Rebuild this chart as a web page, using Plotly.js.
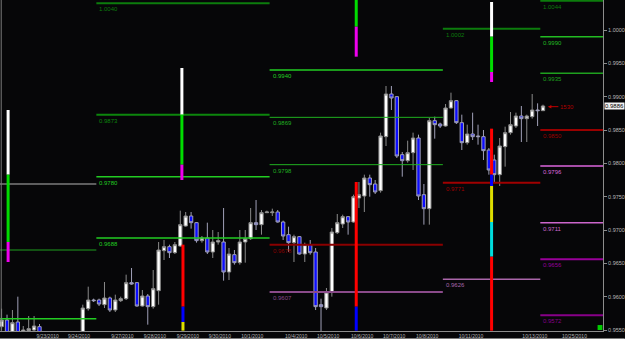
<!DOCTYPE html>
<html><head><meta charset="utf-8">
<script src="https://cdn.plot.ly/plotly-3.0.1.min.js"></script>
<style>html,body{margin:0;padding:0;background:#060608;}#c{width:625px;height:339px;}</style>
</head><body><div id="c"></div>
<script>
// ---- candle data (H4 bars, bar index 0..100) ----
const opens = [.9555,.9565,.9541,.9562,.9538,.9549,.9550,.9555,.9538,.9529,
.9517,.9526,.9520,.9528,.9534,.9528,.9582,.9595,.9595,.9588,
.9598,.9580,.9594,.9597,.9621,.9621,.9586,.9601,.9585,.9609,
.9669,.9675,.9666,.9676,.9706,.9721,.9711,.9684,.9688,.9667,
.9682,.9682,.9637,.9663,.9651,.9682,.9687,.9711,.9708,.9726,
.9726,.9727,.9712,.9693,.9681,.9690,.9664,.9678,.9667,.9588,
.9583,.9607,.9696,.9709,.9720,.9712,.9748,.9751,.9778,.9769,
.9759,.9840,.9904,.9900,.9813,.9804,.9816,.9838,.9753,.9732,
.9864,.9859,.9856,.9883,.9894,.9861,.9831,.9844,.9841,.9840,
.9820,.9805,.9783,.9825,.9846,.9856,.9871,.9867,.9870,.9880,
.9879];
const highs = [.9582,.9573,.9580,.9600,.9556,.9571,.9571,.9559,.9544,.9538,
.9535,.9534,.9537,.9543,.9544,.9588,.9615,.9597,.9597,.9622,
.9600,.9603,.9600,.9633,.9643,.9622,.9610,.9604,.9640,.9682,
.9685,.9678,.9682,.9729,.9727,.9727,.9712,.9691,.9711,.9700,
.9697,.9733,.9673,.9670,.9700,.9700,.9733,.9745,.9730,.9729,
.9732,.9730,.9714,.9705,.9693,.9691,.9681,.9685,.9673,.9597,
.9613,.9703,.9724,.9723,.9721,.9753,.9772,.9783,.9783,.9775,
.9846,.9916,.9916,.9901,.9817,.9834,.9846,.9843,.9769,.9868,
.9870,.9861,.9889,.9906,.9895,.9873,.9858,.9876,.9858,.9850,
.9823,.9813,.9838,.9855,.9877,.9876,.9886,.9873,.9904,.9890,
.9888];
const lows = [.9549,.9538,.9538,.9535,.9535,.9546,.9547,.9535,.9523,.9516,
.9513,.9511,.9516,.9520,.9522,.9525,.9579,.9592,.9586,.9583,
.9577,.9577,.9592,.9595,.9618,.9585,.9585,.9558,.9582,.9588,
.9655,.9658,.9664,.9675,.9705,.9702,.9681,.9681,.9664,.9658,
.9678,.9624,.9625,.9648,.9648,.9651,.9685,.9700,.9693,.9726,
.9721,.9711,.9685,.9667,.9652,.9663,.9652,.9663,.9580,.9546,
.9580,.9600,.9694,.9703,.9693,.9711,.9733,.9727,.9750,.9754,
.9756,.9826,.9880,.9808,.9780,.9801,.9790,.9745,.9708,.9708,
.9837,.9853,.9855,.9882,.9859,.9820,.9828,.9835,.9828,.9805,
.9783,.9771,.9766,.9795,.9843,.9853,.9832,.9832,.9867,.9856,
.9879];
const closes = [.9565,.9543,.9561,.9540,.9550,.9552,.9556,.9540,.9528,.9520,
.9526,.9517,.9529,.9535,.9526,.9583,.9595,.9594,.9589,.9598,
.9580,.9595,.9597,.9621,.9619,.9586,.9601,.9585,.9612,.9670,
.9675,.9666,.9678,.9708,.9721,.9711,.9684,.9688,.9667,.9682,
.9684,.9637,.9664,.9651,.9682,.9687,.9711,.9708,.9726,.9727,
.9727,.9712,.9691,.9681,.9690,.9664,.9678,.9666,.9585,.9585,
.9607,.9697,.9711,.9720,.9712,.9750,.9753,.9778,.9768,.9757,
.9841,.9904,.9898,.9811,.9804,.9816,.9838,.9751,.9732,.9864,
.9858,.9856,.9883,.9894,.9861,.9831,.9844,.9840,.9840,.9819,
.9790,.9783,.9826,.9846,.9858,.9871,.9867,.9871,.9880,.9879,
.9886];
const barIndex = opens.map((_, i) => i);

// ---- date ticks on the bar-index axis ----
const dateLabels = ['9/23/2010','9/24/2010','9/27/2010','9/28/2010','9/29/2010','9/30/2010','10/1/2010',
  '10/4/2010','10/5/2010','10/6/2010','10/7/2010','10/8/2010','10/11/2010','10/13/2010','10/25/2010'];
const dateTickAt = [8.5,14.3,22.3,28.3,34.4,40.3,46.3,54.4,60.3,66.6,72.5,78.6,86.7,98.5,105.8];

// ---- price ticks ----
const priceTicks = [0.9550,0.9600,0.9650,0.9700,0.9750,0.9800,0.9850,0.9900,0.9950,1.0000];
const currentPrice = 0.9886;
const timerText = '1530';

// ---- pivot-style level lines: period boundaries (bar index) and levels ----
const periodBounds = [-1, 17.5, 49.5, 81.5, 99.5, 112];
const levelPeriod = [0,0,0, 1,1,1,1, 2,2,2,2,2, 3,3,3, 4,4,4,4,4,4,4,4];
const levelPrice  = [0.9769,0.9670,0.9567, 1.0040,0.9873,0.9780,0.9688,
  0.9940,0.9869,0.9798,0.9678,0.9607, 1.0002,0.9771,0.9626,
  1.0044,0.9990,0.9935,0.9850,0.9796,0.9711,0.9656,0.9572];

// ---- range indicator columns (bar index, from price, to price) ----
const colX    = [1.2,1.2,1.2, 33.3,33.3,33.3, 33.5,33.5,33.5, 65.5,65.5, 65.5,65.5, 90.5,90.5,90.5, 90.5,90.5,90.5,90.5,90.5];
const colFrom = [0.9880,0.9783,0.9682, 0.9943,0.9873,0.9798, 0.9678,0.9585,0.9562, 1.0045,1.0005, 0.9772,0.9585, 1.0042,0.9990,0.9937, 0.9852,0.9783,0.9766,0.9712,0.9660];
const colTo   = [0.9783,0.9682,0.9652, 0.9873,0.9798,0.9775, 0.9585,0.9562,0.9549, 1.0005,0.9960, 0.9585,0.9549, 0.9990,0.9937,0.9922, 0.9783,0.9766,0.9712,0.9660,0.9549];

// ---- styles (kept apart from data) ----
const levelColor = ['#b4b4b4','#1e9e1e','#22cc22', '#0c7c0c','#0c860c','#22cc22','#22cc22',
  '#22cc22','#20b020','#20b020','#8a0000','#8a4a8a', '#0c7c0c','#a00000','#aa66aa',
  '#0c7c0c','#22bb22','#1ea01e','#990000','#dd66dd','#cc66cc','#990099','#880088'];
const levelWidth = [1,1,1.5, 2,2,1.5,1.5, 1.5,1,1,2,2, 2,2,1.5, 2,1.5,1.5,2,1.5,1.5,2,2];
const colColor = ['#ffffff','#00dd00','#ee00ee', '#ffffff','#00dd00','#ee00ee', '#ff0000','#0000ff','#dddd00',
  '#00dd00','#ee00ee', '#ff0000','#0000ff', '#ffffff','#00dd00','#ee00ee', '#ff0000','#0000ff','#dddd00','#00dddd','#ff0000'];

const traces = [];
levelPrice.forEach((p, k) => {
  const s = levelPeriod[k];
  traces.push({type:'scatter', mode:'lines', x:[periodBounds[s], periodBounds[s+1]], y:[p,p],
    line:{color:levelColor[k], width:levelWidth[k]}, hoverinfo:'skip', showlegend:false});
});
colX.forEach((x, k) => {
  traces.push({type:'scatter', mode:'lines', x:[x,x], y:[colFrom[k], colTo[k]],
    line:{color:colColor[k], width:3}, hoverinfo:'skip', showlegend:false});
});
traces.push({type:'candlestick', x:barIndex, open:opens, high:highs, low:lows, close:closes,
  increasing:{fillcolor:'#ffffff', line:{color:'#8a8a8a', width:1}},
  decreasing:{fillcolor:'#0c0cff', line:{color:'#a0a0b8', width:1}},
  whiskerwidth:0, showlegend:false, hoverinfo:'skip'});

const annotations = [];
levelPrice.forEach((p, k) => {
  const s = levelPeriod[k];
  if (s === 0) return;
  annotations.push({x:periodBounds[s], y:p, xref:'x', yref:'y', text:p.toFixed(4), showarrow:false,
    xanchor:'left', yanchor:'top', xshift:1, yshift:-1,
    font:{family:'Liberation Sans', size:6, color:levelColor[k]}});
});
annotations.push({x:1, xref:'paper', y:currentPrice, yref:'y', text:currentPrice.toFixed(4), showarrow:false,
  xanchor:'left', xshift:1, bgcolor:'#f2f2f2', borderpad:0,
  font:{family:'Liberation Sans', size:6, color:'#000000'}});
annotations.push({x:barIndex[barIndex.length-1]+0.9, y:closes[closes.length-1]-0.0001, xref:'x', yref:'y',
  text:timerText, showarrow:true, ax:19, ay:0, arrowhead:2, arrowsize:0.7, arrowwidth:1, arrowcolor:'#c00000',
  font:{family:'Liberation Sans', size:6, color:'#b00000'}});

const layout = {
  width:625, height:339, margin:{l:0, r:22, t:0, b:8},
  paper_bgcolor:'#060608', plot_bgcolor:'#060608',
  boxgap:0.12,
  xaxis:{range:[-0.296, 111.08], showgrid:false, zeroline:false, showline:true, linecolor:'#8c8c8c', linewidth:1,
    tickmode:'array', tickvals:dateTickAt, ticktext:dateLabels, ticks:'', ticklen:0,
    tickfont:{family:'Liberation Sans', size:5, color:'#b8b8b8'}, rangeslider:{visible:false}, fixedrange:true},
  yaxis:{range:[0.95485, 1.0045], side:'right', showgrid:false, zeroline:false, showline:true, linecolor:'#8c8c8c', linewidth:1,
    tickmode:'array', tickvals:priceTicks, ticktext:priceTicks.map(v=>v.toFixed(4)), ticks:'outside', ticklen:3, tickcolor:'#8c8c8c',
    tickfont:{family:'Liberation Sans', size:5.5, color:'#b8b8b8'}, fixedrange:true},
  shapes:[
    {type:'line', xref:'paper', yref:'paper', x0:0.002, x1:0.002, y0:0, y1:1, line:{color:'#7a7a7a', width:1}},
    {type:'line', xref:'paper', yref:'paper', x0:0, x1:1.036, y0:-0.0227, y1:-0.0227, line:{color:'#7a7a7a', width:1}},
    {type:'rect', xref:'paper', yref:'paper', x0:0.991, x1:0.999, y0:0.003, y1:0.018, fillcolor:'#00cc00', line:{width:0}}
  ],
  annotations:annotations,
  showlegend:false
};
Plotly.newPlot('c', traces, layout, {staticPlot:true, displayModeBar:false});
</script></body></html>
